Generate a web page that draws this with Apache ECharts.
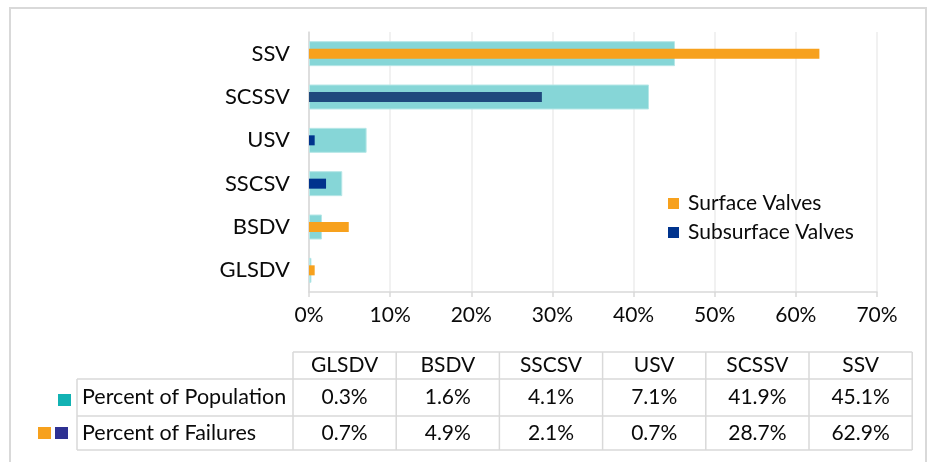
<!DOCTYPE html>
<html>
<head>
<meta charset="utf-8">
<script src="https://cdn.jsdelivr.net/npm/echarts@6/dist/echarts.min.js"></script>
<style>
  html, body { margin: 0; padding: 0; background: #fff; }
  #chart { width: 927px; height: 462px; }
</style>
</head>
<body>
<div id="chart"></div>
<script>
// valve types, bottom to top of chart = left to right in the table
const categories = ['GLSDV', 'BSDV', 'SSCSV', 'USV', 'SCSSV', 'SSV']
const populationPct = [0.3, 1.6, 4.1, 7.1, 41.9, 45.1]
const failurePct = [0.7, 4.9, 2.1, 0.7, 28.7, 62.9]
const surfaceTypes = ['GLSDV', 'BSDV', 'SSV']
const xTicks = [0, 10, 20, 30, 40, 50, 60, 70]
const rowNames = ['Percent of Population', 'Percent of Failures']

const FONT = 'Lato, "Noto Sans", sans-serif'
const TEAL = '#86d6d7'
const ORANGE = '#f7a11d'
const NAVY = '#00338d'
const GRID = '#d9d9d9'
const INK = '#0a0a0a'

const surfaceData = categories.map((c, i) => surfaceTypes.includes(c) ? failurePct[i] : '-')
const subsurfaceData = categories.map((c, i) => {
  if (surfaceTypes.includes(c)) return '-'
  // SCSSV bar is drawn in a darker slate blue in the original
  if (c === 'SCSSV') return { value: failurePct[i], itemStyle: { color: '#1f497d' } }
  return failurePct[i]
})

// data table under the chart
function buildTable() {
  const els = []
  const colLeft = 293
  const colW = 103.2
  const rowY = [352, 379, 416, 450]
  const labelLeft = 77
  const line = (x1, y1, x2, y2) => ({
    type: 'line',
    shape: { x1, y1, x2, y2 },
    style: { stroke: GRID, lineWidth: 1.5 }
  })
  const text = (x, y, str, align, size) => ({
    type: 'text',
    x, y,
    style: { text: str, fill: INK, font: (size || 21) + 'px ' + FONT, align: align || 'center', verticalAlign: 'middle' }
  })
  const right = colLeft + colW * categories.length
  // horizontal lines
  els.push(line(colLeft, rowY[0], right, rowY[0]))
  els.push(line(labelLeft, rowY[1], right, rowY[1]))
  els.push(line(labelLeft, rowY[2], right, rowY[2]))
  els.push(line(labelLeft, rowY[3], right, rowY[3]))
  // vertical lines
  els.push(line(labelLeft, rowY[1], labelLeft, rowY[3]))
  for (let i = 0; i <= categories.length; i++) {
    const x = colLeft + colW * i
    els.push(line(x, rowY[0], x, rowY[3]))
  }
  categories.forEach((c, i) => {
    const cx = colLeft + colW * (i + 0.5)
    els.push(text(cx, (rowY[0] + rowY[1]) / 2, c))
    els.push(text(cx, (rowY[1] + rowY[2]) / 2, populationPct[i].toFixed(1) + '%'))
    els.push(text(cx, (rowY[2] + rowY[3]) / 2, failurePct[i].toFixed(1) + '%'))
  })
  els.push(text(labelLeft + 5, (rowY[1] + rowY[2]) / 2, rowNames[0], 'left', 21.5))
  els.push(text(labelLeft + 5, (rowY[2] + rowY[3]) / 2, rowNames[1], 'left', 21.5))
  // legend keys in front of row names
  els.push({ type: 'rect', shape: { x: 58, y: 394, width: 13, height: 12 }, style: { fill: '#12b2b3' } })
  els.push({ type: 'rect', shape: { x: 38, y: 427, width: 13, height: 12 }, style: { fill: ORANGE } })
  els.push({ type: 'rect', shape: { x: 55, y: 427, width: 13, height: 12 }, style: { fill: '#2e3192' } })
  // outer frame
  els.push({
    type: 'polyline',
    shape: { points: [[10, 462], [10, 8], [926, 8], [926, 462]] },
    style: { stroke: GRID, lineWidth: 2, fill: null }
  })
  return els
}

const myChart = echarts.init(document.getElementById('chart'))
const options = {
  animation: false,
  textStyle: { fontFamily: FONT },
  grid: { left: 309, right: 50, top: 32, bottom: 170 },
  legend: {
    orient: 'vertical',
    left: 663,
    top: 188,
    itemWidth: 11,
    itemHeight: 11,
    itemGap: 8,
    icon: 'rect',
    data: ['Surface Valves', 'Subsurface Valves'],
    textStyle: { fontSize: 21, color: INK, padding: [0, 0, 0, 4] }
  },
  xAxis: {
    type: 'value',
    min: xTicks[0],
    max: xTicks[xTicks.length - 1],
    interval: xTicks[1] - xTicks[0],
    axisLabel: { formatter: v => v + '%', fontSize: 21, color: INK, margin: 13 },
    axisLine: { show: true, lineStyle: { color: GRID, width: 1.5 } },
    axisTick: { show: true, length: 5, lineStyle: { color: GRID, width: 1.5 } },
    splitLine: { lineStyle: { color: '#ececec', width: 1.5 } }
  },
  yAxis: [
    {
      type: 'category',
      data: categories,
      axisLabel: { fontSize: 22, color: INK, margin: 19 },
      axisLine: { lineStyle: { color: GRID, width: 1.5 } },
      axisTick: { length: 6, lineStyle: { color: GRID, width: 1.5 } }
    },
    {
      type: 'category',
      data: categories,
      show: false
    }
  ],
  series: [
    {
      name: 'Percent of Population',
      type: 'bar',
      yAxisIndex: 0,
      barWidth: 25,
      data: populationPct,
      itemStyle: { color: TEAL, borderColor: '#b6e7e7', borderWidth: 1 }
    },
    {
      name: 'Surface Valves',
      type: 'bar',
      yAxisIndex: 1,
      stack: 'failures',
      barWidth: 10,
      data: surfaceData,
      itemStyle: { color: ORANGE }
    },
    {
      name: 'Subsurface Valves',
      type: 'bar',
      yAxisIndex: 1,
      stack: 'failures',
      barWidth: 11,
      data: subsurfaceData,
      itemStyle: { color: NAVY }
    }
  ],
  graphic: buildTable()
}
myChart.setOption(options)
window.addEventListener('resize', function() {
  myChart.resize()
})
</script>
</body>
</html>
